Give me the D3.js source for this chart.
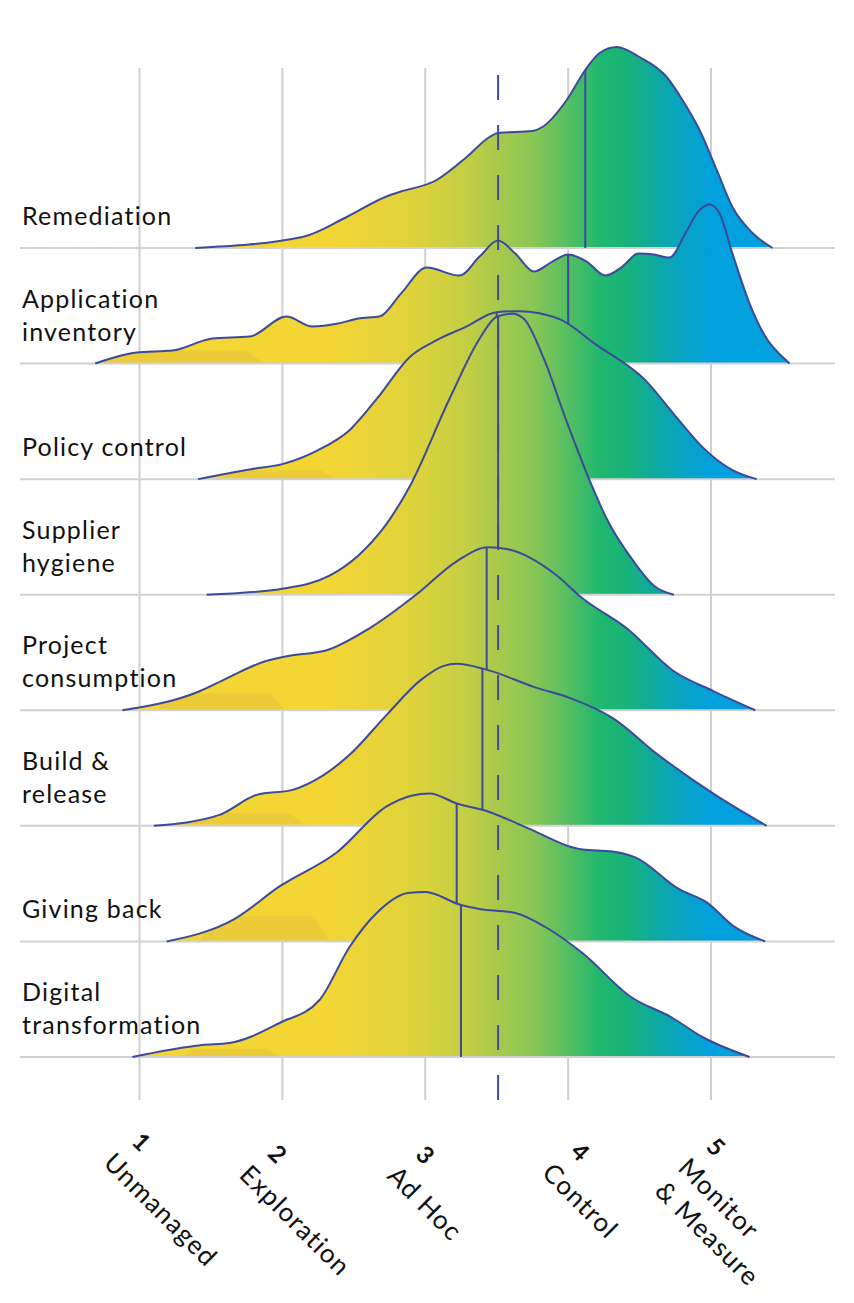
<!DOCTYPE html>
<html>
<head>
<meta charset="utf-8">
<script src="https://cdn.jsdelivr.net/npm/d3@7"></script>
<style>
  body { margin: 0; background: #fff; }
  svg { display: block; font-family: Lato, sans-serif; }
</style>
</head>
<body>
<svg id="chart" width="854" height="1303"></svg>
<script>
// rows, top to bottom
var categories = ["Remediation", "Application inventory", "Policy control", "Supplier hygiene",
  "Project consumption", "Build & release", "Giving back", "Digital transformation"];
var labelLines = [["Remediation"], ["Application", "inventory"], ["Policy control"], ["Supplier", "hygiene"],
  ["Project", "consumption"], ["Build &", "release"], ["Giving back"], ["Digital", "transformation"]];

// density curves: [maturity score, density]
var remediation = [[1.39,0],[2.14,0.11],[2.45,0.31],[2.72,0.51],[2.82,0.56],[3.08,0.68],[3.29,0.91],[3.45,1.11],[3.51,1.15],[3.75,1.17],[3.82,1.21],[3.99,1.48],[4.12,1.78],[4.22,1.95],[4.34,2.01],[4.50,1.91],[4.69,1.71],[4.80,1.48],[4.92,1.18],[5.04,0.78],[5.15,0.41],[5.29,0.15],[5.43,0]];
var applicationInventory = [[0.69,0],[0.98,0.11],[1.23,0.13],[1.51,0.25],[1.77,0.27],[2.03,0.47],[2.21,0.37],[2.39,0.40],[2.53,0.45],[2.68,0.47],[2.83,0.70],[3.01,0.96],[3.24,0.88],[3.38,1.07],[3.51,1.23],[3.63,1.10],[3.76,0.92],[3.89,1.02],[4.00,1.09],[4.13,1.02],[4.26,0.88],[4.38,0.97],[4.49,1.10],[4.60,1.09],[4.71,1.06],[4.82,1.30],[4.91,1.52],[4.99,1.59],[5.06,1.50],[5.15,1.10],[5.27,0.60],[5.38,0.27],[5.52,0.04],[5.55,0]];
var policyControl = [[1.41,0],[1.78,0.10],[2.00,0.15],[2.25,0.29],[2.47,0.49],[2.67,0.82],[2.89,1.22],[3.08,1.39],[3.28,1.52],[3.50,1.67],[3.66,1.68],[3.94,1.60],[4.19,1.35],[4.54,0.99],[4.74,0.65],[4.94,0.32],[5.15,0.09],[5.32,0]];
var supplierHygiene = [[1.47,0],[2.00,0.06],[2.33,0.19],[2.53,0.39],[2.72,0.69],[2.89,1.08],[3.17,1.96],[3.38,2.56],[3.50,2.78],[3.61,2.81],[3.69,2.76],[3.83,2.36],[3.99,1.73],[4.16,1.11],[4.27,0.76],[4.46,0.33],[4.60,0.09],[4.74,0]];
var projectConsumption = [[0.88,0],[1.42,0.19],[1.61,0.32],[1.88,0.49],[2.03,0.54],[2.31,0.60],[2.61,0.82],[2.94,1.16],[3.22,1.49],[3.44,1.63],[3.58,1.61],[3.91,1.36],[4.10,1.12],[4.41,0.82],[4.74,0.39],[5.02,0.19],[5.31,0]];
var buildRelease = [[1.10,0],[1.56,0.11],[1.82,0.31],[2.07,0.36],[2.28,0.50],[2.47,0.71],[2.73,1.11],[2.97,1.46],[3.13,1.60],[3.22,1.62],[3.41,1.57],[3.78,1.38],[4.01,1.28],[4.31,1.08],[4.63,0.71],[5.03,0.31],[5.39,0]];
var givingBack = [[1.19,0],[1.66,0.22],[1.98,0.55],[2.38,0.89],[2.73,1.35],[2.91,1.46],[3.03,1.48],[3.22,1.38],[3.44,1.30],[3.69,1.15],[4.10,0.92],[4.31,0.90],[4.47,0.84],[4.78,0.52],[4.97,0.39],[5.16,0.15],[5.38,0]];
var digitalTransformation = [[0.95,0],[1.44,0.12],[1.63,0.14],[1.98,0.34],[2.26,0.57],[2.47,1.10],[2.66,1.44],[2.88,1.64],[3.00,1.65],[3.25,1.52],[3.38,1.48],[3.63,1.44],[3.84,1.30],[4.10,1.04],[4.44,0.60],[4.72,0.40],[4.94,0.20],[5.27,0]];

// mean score per row, and the overall mean (dashed line)
var means = [4.12, 4.00, 3.50, 3.51, 3.43, 3.40, 3.22, 3.25];
var overallMean = 3.51;

// faint darker patches near the low end: [from, to, density]
var patches = [null, [0.72, 1.88, 0.13], [1.56, 2.37, 0.09], null, [1.12, 2.02, 0.17], [1.19, 2.17, 0.12], [1.42, 2.33, 0.25], [1.30, 1.98, 0.08]];

var tickValues = [1, 2, 3, 4, 5];
var tickNames = [["Unmanaged"], ["Exploration"], ["Ad Hoc"], ["Control"], ["Monitor", "& Measure"]];
// small hand offsets for the rotated tick labels
var tickNudge = [[-1, -7], [-8, 5], [-3, 6], [9, 3], [2, -2]];

var gradientStops = [[2.33, "#f3d534"], [2.83, "#e3d33a"], [3.0, "#d8d23d"], [3.29, "#c4ce44"], [3.52, "#a6c94d"], [3.76, "#88c655"], [4.0, "#55be62"], [4.23, "#1fb76f"], [4.4, "#18b379"], [4.57, "#10ab98"], [4.78, "#08a4c0"], [5.0, "#02a0dd"]];

var series = [remediation, applicationInventory, policyControl, supplierHygiene,
  projectConsumption, buildRelease, givingBack, digitalTransformation];

var svg = d3.select("#chart");
var outline = "#3b4a9a";

var x = d3.scaleLinear().domain([1, 5]).range([139.5, 711]);
var y = d3.scalePoint().domain(categories).range([248, 1057]);
var h = d3.scaleLinear().domain([0, 1]).range([0, 100]);

var defs = svg.append("defs");
var g0 = gradientStops[0][0], g1 = gradientStops[gradientStops.length - 1][0];
defs.append("linearGradient")
  .attr("id", "ramp")
  .attr("gradientUnits", "userSpaceOnUse")
  .attr("x1", x(g0)).attr("x2", x(g1))
  .attr("y1", 0).attr("y2", 0)
  .selectAll("stop")
  .data(gradientStops)
  .join("stop")
  .attr("offset", function(d) { return (d[0] - g0) / (g1 - g0); })
  .attr("stop-color", function(d) { return d[1]; });

// vertical grid
svg.append("g")
  .selectAll("line")
  .data(tickValues)
  .join("line")
  .attr("x1", function(d) { return x(d); })
  .attr("x2", function(d) { return x(d); })
  .attr("y1", 68)
  .attr("y2", 1100)
  .attr("stroke", "#cfcfcf")
  .attr("stroke-width", 2);

// ridges, top first so the lower ones sit on top
series.forEach(function(pts, i) {
  var base = y(categories[i]);
  var g = svg.append("g");

  var area = d3.area()
    .x(function(d) { return x(d[0]); })
    .y0(base)
    .y1(function(d) { return base - h(d[1]); })
    .curve(d3.curveMonotoneX);
  var line = d3.line()
    .x(function(d) { return x(d[0]); })
    .y(function(d) { return base - h(d[1]); })
    .curve(d3.curveMonotoneX);

  defs.append("clipPath").attr("id", "clip" + i)
    .append("path").attr("d", area(pts));

  g.append("path")
    .attr("d", area(pts))
    .attr("fill", "url(#ramp)");

  var p = patches[i];
  if (p) {
    var top = base - h(p[2]);
    var s = (p[1] - p[0]) * 0.12;
    g.append("path")
      .attr("d", "M" + x(p[0]) + "," + base + "L" + x(p[0] + s) + "," + top +
        "L" + x(p[1] - s) + "," + top + "L" + x(p[1]) + "," + base + "Z")
      .attr("fill", "#e4c33c")
      .attr("opacity", 0.5)
      .attr("clip-path", "url(#clip" + i + ")");
  }

  g.append("line")
    .attr("x1", 20).attr("x2", 835)
    .attr("y1", base).attr("y2", base)
    .attr("stroke", "#d2d2d2")
    .attr("stroke-width", 2);

  g.append("line")
    .attr("x1", x(means[i])).attr("x2", x(means[i]))
    .attr("y1", base).attr("y2", base - 300)
    .attr("stroke", outline)
    .attr("stroke-width", 2)
    .attr("clip-path", "url(#clip" + i + ")");

  g.append("path")
    .attr("d", line(pts))
    .attr("fill", "none")
    .attr("stroke", outline)
    .attr("stroke-width", 2);

  var lines = labelLines[i];
  g.append("text")
    .attr("font-size", 25)
    .attr("letter-spacing", 1.2)
    .attr("fill", "#111")
    .selectAll("tspan")
    .data(lines)
    .join("tspan")
    .attr("x", 22)
    .attr("y", function(d, j) { return base - 23 - (lines.length - 1 - j) * 33; })
    .text(function(d) { return d; });
});

// overall mean
svg.append("line")
  .attr("x1", x(overallMean)).attr("x2", x(overallMean))
  .attr("y1", 75).attr("y2", 1100)
  .attr("stroke", outline)
  .attr("stroke-width", 2)
  .attr("stroke-dasharray", "25,25");

// rotated axis labels
var ticks = svg.append("g")
  .selectAll("g")
  .data(tickValues)
  .join("g")
  .attr("transform", function(d, i) {
    return "translate(" + (x(d) - 8 + tickNudge[i][0]) + "," + (1150 + tickNudge[i][1]) + ") rotate(45)";
  });

ticks.append("text")
  .attr("font-size", 24)
  .attr("font-weight", 700)
  .attr("fill", "#111")
  .text(function(d) { return d; });

ticks.append("text")
  .attr("font-size", 26)
  .attr("letter-spacing", 1.2)
  .attr("fill", "#111")
  .selectAll("tspan")
  .data(function(d, i) { return tickNames[i]; })
  .join("tspan")
  .attr("x", -5)
  .attr("y", function(d, j) { return 35 + j * 33; })
  .text(function(d) { return d; });
</script>
</body>
</html>
